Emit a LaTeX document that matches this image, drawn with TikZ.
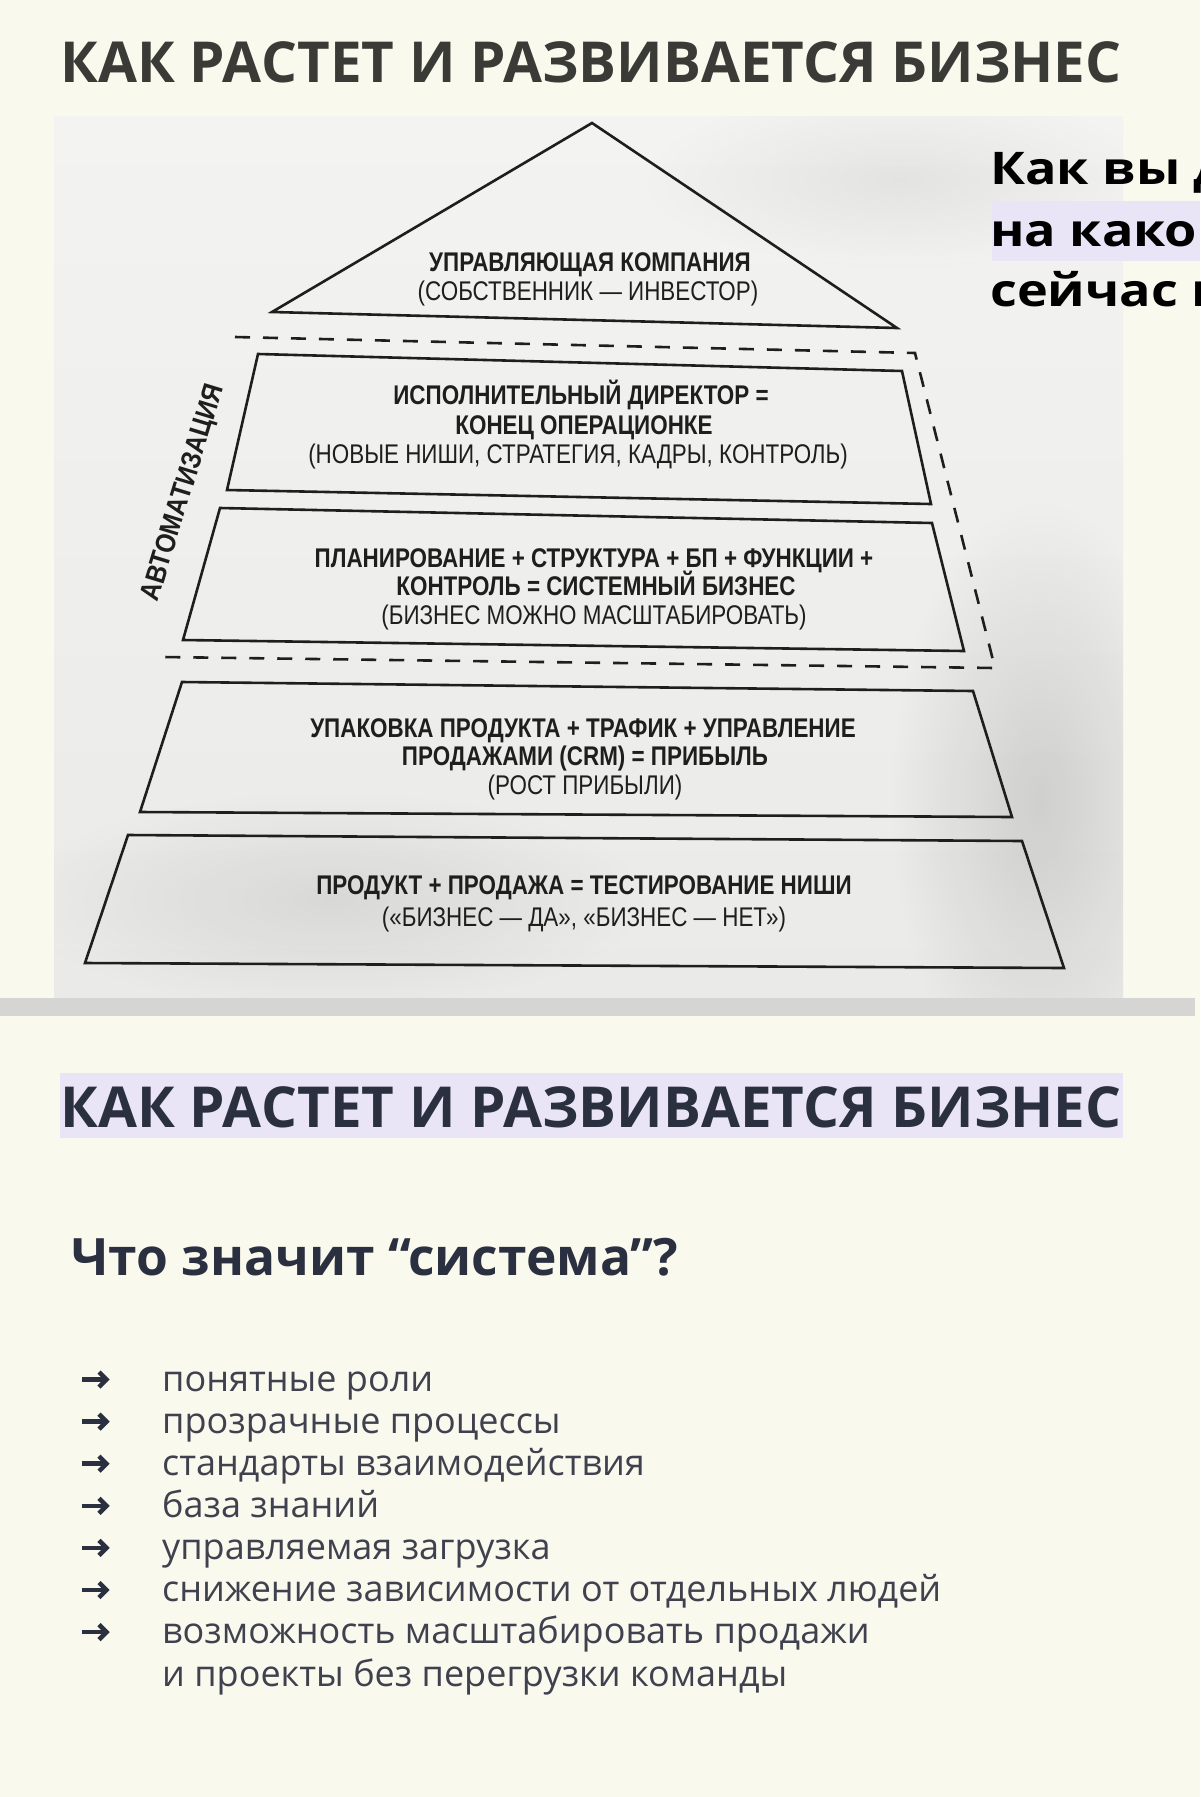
\documentclass[tikz,border=0pt]{standalone}
\usepackage{fontspec}
\setmainfont{Open Sans}
\newfontfamily\condf[FakeStretch=0.83]{Liberation Sans}
\newfontfamily\autof[FakeStretch=0.88]{Liberation Sans}
\newfontfamily\widef[FakeStretch=1.16]{Open Sans}
\usetikzlibrary{fadings}
\tikzfading[name=softfade, inner color=transparent!0, outer color=transparent!100]
\definecolor{cream}{HTML}{FAF9EE}
\definecolor{lav}{HTML}{E9E5F7}
\definecolor{phtop}{HTML}{F3F3F1}
\definecolor{phbot}{HTML}{EAEAE8}
\definecolor{ink}{HTML}{1E1E1E}
\definecolor{titlegray}{HTML}{3A3A36}
\definecolor{navy}{HTML}{2B3040}
\definecolor{listgray}{HTML}{3F424E}
\definecolor{barc}{HTML}{D5D5D3}
\begin{document}
\begin{tikzpicture}[x=1pt,y=-1pt,
  lvl/.style={draw=ink, line width=2.6pt, line join=miter},
  dsh/.style={draw=ink, line width=2.6pt, dash pattern=on 15pt off 13pt},
  ph/.style={text=ink, inner sep=0pt, anchor=base},
  phb/.style={ph, font=\condf\bfseries\fontsize{27}{27}\selectfont},
  phr/.style={ph, font=\condf\fontsize{27}{27}\selectfont},
  ttl/.style={inner sep=0pt, anchor=base west, font=\bfseries\fontsize{56.5}{56.5}\selectfont},
  side/.style={inner sep=0pt, anchor=base west, text=black, font=\widef\bfseries\fontsize{45}{45}\selectfont},
  item/.style={inner sep=0pt, anchor=base west, text=listgray, font=\fontsize{36}{36}\selectfont},
  bul/.style={draw=navy, line width=4.5pt, line cap=butt, line join=miter}
]
\useasboundingbox (0,0) rectangle (1200,1797);
\fill[cream] (0,0) rectangle (1200,1797);

% photo
\shade[top color=phtop, bottom color=phbot] (54,116) rectangle (1123,998);
\begin{scope}
  \clip (54,116) rectangle (1123,998);
  \fill[black, opacity=0.12, path fading=softfade] (1040,800) ellipse (150 and 300);
  \fill[black, opacity=0.08, path fading=softfade] (330,900) ellipse (320 and 110);
  \fill[black, opacity=0.06, path fading=softfade] (900,180) ellipse (260 and 90);
\end{scope}

% title 1
\node[ttl, text=titlegray] (t1) at (60,82) {КАК РАСТЕТ И РАЗВИВАЕТСЯ БИЗНЕС};

% pyramid
\coordinate (ta) at (592,123); \coordinate (tl) at (272,312); \coordinate (tr) at (897,328);
\draw[lvl] (ta) -- (tr) -- (tl) -- cycle;

\coordinate (d1) at (235,337); \coordinate (d2) at (915,353);
\coordinate (d3) at (995,668); \coordinate (d4) at (163,657);
\draw[dsh] (d1) -- (d2) -- (d3) -- (d4);

\coordinate (a1) at (258,354); \coordinate (a2) at (902,371); \coordinate (a3) at (931,504); \coordinate (a4) at (227,490);
\draw[lvl] (a1) -- (a2) -- (a3) -- (a4) -- cycle;
\coordinate (b1) at (220,508); \coordinate (b2) at (932,523); \coordinate (b3) at (964,651); \coordinate (b4) at (183,640);
\draw[lvl] (b1) -- (b2) -- (b3) -- (b4) -- cycle;
\coordinate (c1) at (182,682); \coordinate (c2) at (973,691); \coordinate (c3) at (1012,817); \coordinate (c4) at (140,812);
\draw[lvl] (c1) -- (c2) -- (c3) -- (c4) -- cycle;
\coordinate (e1) at (128,835); \coordinate (e2) at (1022,841); \coordinate (e3) at (1064,968); \coordinate (e4) at (85,963);
\draw[lvl] (e1) -- (e2) -- (e3) -- (e4) -- cycle;

\node[phb] (p1) at (590,271) {УПРАВЛЯЮЩАЯ КОМПАНИЯ};
\node[phr] (p2) at (588,300) {(СОБСТВЕННИК — ИНВЕСТОР)};

\node[phb] (q1) at (581,404) {ИСПОЛНИТЕЛЬНЫЙ ДИРЕКТОР =};
\node[phb] (q2) at (584,434) {КОНЕЦ ОПЕРАЦИОНКЕ};
\node[phr] (q3) at (578,463) {(НОВЫЕ НИШИ, СТРАТЕГИЯ, КАДРЫ, КОНТРОЛЬ)};

\node[phb] (r1) at (594,567) {ПЛАНИРОВАНИЕ + СТРУКТУРА + БП + ФУНКЦИИ +};
\node[phb] (r2) at (596,595) {КОНТРОЛЬ = СИСТЕМНЫЙ БИЗНЕС};
\node[phr] (r3) at (594,624) {(БИЗНЕС МОЖНО МАСШТАБИРОВАТЬ)};

\node[phb] (s1) at (583,737) {УПАКОВКА ПРОДУКТА + ТРАФИК + УПРАВЛЕНИЕ};
\node[phb] (s2) at (585,765) {ПРОДАЖАМИ (CRM) = ПРИБЫЛЬ};
\node[phr] (s3) at (585,794) {(РОСТ ПРИБЫЛИ)};

\node[phb] (u1) at (584,894) {ПРОДУКТ + ПРОДАЖА = ТЕСТИРОВАНИЕ НИШИ};
\node[phr] (u2) at (584,926) {(«БИЗНЕС — ДА», «БИЗНЕС — НЕТ»)};

\node[text=ink, inner sep=0pt, rotate=73, font=\autof\bfseries\fontsize{28}{28}\selectfont] (auto) at (184,493) {АВТОМАТИЗАЦИЯ};

% side text (cut at right edge)
\begin{scope}
  \clip (0,0) rectangle (1200,1797);
  \fill[lav] (992,201) rectangle (1200,261);
  \node[side] (k1) at (990,184) {Как вы д};
  \node[side] (k2) at (990,246) {на како};
  \node[side] (k3) at (990,306) {сейчас н};
\end{scope}

% gray bar
\fill[barc] (0,998) rectangle (1195,1016);

% second part
\fill[lav] (60,1073) rectangle (1123,1138);
\node[ttl, text=navy] (t2) at (60,1127) {КАК РАСТЕТ И РАЗВИВАЕТСЯ БИЗНЕС};
\node[inner sep=0pt, anchor=base west, text=navy, font=\bfseries\fontsize{51.5}{51.5}\selectfont] (q) at (71,1275) {Что значит “система”?};

\foreach \t [count=\i] in {понятные роли, прозрачные процессы, стандарты взаимодействия, база знаний, управляемая загрузка, снижение зависимости от отдельных людей, возможность масштабировать продажи} {
  \node[item] (it\i) at (162,1391+42.1*\i-42.1) {\t};
  \draw[bul, shift={(it\i.base west)}] (-80,-11.5) -- (-55,-11.5);
  \draw[bul, shift={(it\i.base west)}] (-63,-19) -- (-55.5,-11.5) -- (-63,-4);
}
\node[item] (it8) at (162,1686) {и проекты без перегрузки команды};
\end{tikzpicture}
\end{document}
